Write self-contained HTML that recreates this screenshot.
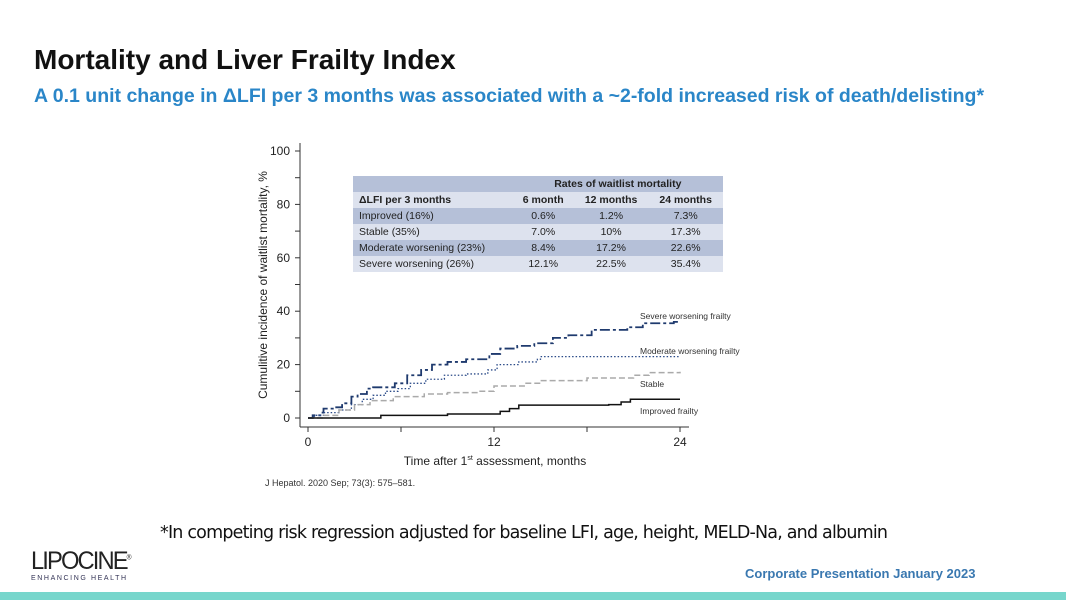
<!DOCTYPE html>
<html><head><meta charset="utf-8"><style>
body{margin:0;width:1066px;height:600px;background:#fff;position:relative;overflow:hidden;font-family:"Liberation Sans",sans-serif}
.abs{position:absolute}
table{border-collapse:collapse;font-size:10.5px;color:#222}
td{padding:0 6px;height:16px}
</style></head><body>
<div class="abs" style="left:34px;top:44px;font-size:28px;font-weight:bold;color:#111">Mortality and Liver Frailty Index</div>
<div class="abs" style="left:34px;top:85px;font-size:19.5px;font-weight:bold;color:#2a86c8;white-space:nowrap">A 0.1 unit change in ΔLFI per 3 months was associated with a ~2-fold increased risk of death/delisting*</div>
<svg class="abs" style="left:0;top:0" width="1066" height="600">
<g id="axes"></g><g id="series"></g>
</svg>
<table class="abs" style="left:353px;top:176px;width:370px">
<tr style="background:#b5c0d8"><td></td><td colspan="3" style="text-align:center;font-weight:bold">Rates of waitlist mortality</td></tr>
<tr style="background:#dde2ee;font-weight:bold"><td>ΔLFI per 3 months</td><td style="text-align:center">6 month</td><td style="text-align:center">12 months</td><td style="text-align:center">24 months</td></tr>
<tr style="background:#b5c0d8"><td>Improved (16%)</td><td align="center">0.6%</td><td align="center">1.2%</td><td align="center">7.3%</td></tr>
<tr style="background:#dde2ee"><td>Stable (35%)</td><td align="center">7.0%</td><td align="center">10%</td><td align="center">17.3%</td></tr>
<tr style="background:#b5c0d8"><td>Moderate worsening (23%)</td><td align="center">8.4%</td><td align="center">17.2%</td><td align="center">22.6%</td></tr>
<tr style="background:#dde2ee"><td>Severe worsening (26%)</td><td align="center">12.1%</td><td align="center">22.5%</td><td align="center">35.4%</td></tr>
</table>
<div class="abs" style="left:265px;top:478px;font-size:9px;color:#333">J Hepatol. 2020 Sep; 73(3): 575–581.</div>
<div class="abs" style="left:160px;top:523px;font-size:17.5px;color:#111;font-family:'DejaVu Sans',sans-serif;letter-spacing:-0.8px;white-space:nowrap">*In competing risk regression adjusted for baseline LFI, age, height, MELD-Na, and albumin</div>
<div class="abs" style="left:31px;top:547px;font-size:25px;color:#222;letter-spacing:-2px;transform:scaleX(0.95);transform-origin:left">LIPOCINE<sup style="font-size:7px">®</sup></div>
<div class="abs" style="left:31px;top:575px;font-size:7px;color:#335;letter-spacing:1.6px">ENHANCING HEALTH</div>
<div class="abs" style="left:745px;top:566px;font-size:13px;font-weight:bold;color:#3a78b0">Corporate Presentation January 2023</div>
<div class="abs" style="left:0;top:592px;width:1066px;height:8px;background:#77d6cc"></div>
<script>
const xTicks=[0,12,24];
const yTicks=[0,20,40,60,80,100];
const severeX=[0,0.3,0.8,1,1.6,2.2,2.8,3.2,3.8,4.2,5.6,6.4,7.3,8,9,10.2,11.7,12.4,13.5,14.6,15.8,16.8,18.3,20.6,21.6,23.6,24];
const severeY=[0,1,2,3.5,4,5.5,8,9,11,11.5,13,16,18,20,21,22,24,26,27,28,30,31,33,34,35.5,36,36];
const moderateX=[0,0.4,1,2,2.8,3.5,4.2,5,5.8,6.6,7.6,8.8,10.2,11.6,12.2,13.6,14.8,15,24];
const moderateY=[0,1,2,3,5,7,8.5,10,11,13,14.5,16,16.5,18,20,21,22,23,23];
const stableX=[0,1,2,3,4,5.5,7.5,9,11,12,14,15,18,21,22,24];
const stableY=[0,1,3,5,6.5,8,9,9.5,10,12,13,14,15,16,17,17.3];
const improvedX=[0,4.7,9,12.4,13,13.6,19.4,20.2,20.8,24];
const improvedY=[0,1,1.5,2.5,3.5,4.8,5,6,7,7];
const seriesNames=['Severe worsening frailty','Moderate worsening frailty','Stable','Improved frailty'];
const X=m=>308+m*(680-308)/24, Y=v=>418-v*2.67;
const NS='http://www.w3.org/2000/svg';
const ax=document.getElementById('axes'), sg=document.getElementById('series');
function mk(p,tag,a){const e=document.createElementNS(NS,tag);for(const k in a)e.setAttribute(k,a[k]);p.appendChild(e);return e;}
let l=mk(ax,'line',{x1:300,y1:143,x2:300,y2:427,stroke:'#333','stroke-width':1});

l=mk(ax,'line',{x1:300,y1:427,x2:689,y2:427,stroke:'#333','stroke-width':1});

for(let v=0;v<=100;v+=10){const t=mk(ax,'line',{x1:295,x2:300,y1:Y(v),y2:Y(v),stroke:'#333'});}
yTicks.forEach(v=>{const t=mk(ax,'text',{x:290,y:Y(v)+4,'text-anchor':'end','font-size':12,fill:'#222'});t.textContent=v;});
for(let m=0;m<=24;m+=6){const t=mk(ax,'line',{x1:X(m),x2:X(m),y1:427,y2:432,stroke:'#333'});}
xTicks.forEach(m=>{const t=mk(ax,'text',{x:X(m),y:446,'text-anchor':'middle','font-size':12,fill:'#222'});t.textContent=m;});
let t=mk(ax,'text',{x:495,y:465,'text-anchor':'middle','font-size':12,fill:'#222'});
t.innerHTML='Time after 1<tspan font-size="7" dy="-5">st</tspan><tspan dy="5"> assessment, months</tspan>';

t=mk(ax,'text',{x:0,y:0,'text-anchor':'middle','font-size':12,fill:'#222',transform:'translate(267,285) rotate(-90)'});
t.textContent='Cumulitive incidence of waitlist mortality, %';

const cfg=[[severeX,severeY,'#1f3a6e','1.8','10 3 3 3',319,'series-severe'],[moderateX,moderateY,'#2a4a88','1.3','1.5 2',354,'series-moderate'],[stableX,stableY,'#aaa','1.5','6 3',387,'series-stable'],[improvedX,improvedY,'#111','1.5','',414,'series-improved']];
cfg.forEach((c,i)=>{let d='M'+X(c[0][0])+','+Y(c[1][0]);for(let j=1;j<c[0].length;j++){d+='H'+X(c[0][j])+'V'+Y(c[1][j]);}
const p=mk(sg,'path',{d:d,fill:'none',stroke:c[2],'stroke-width':c[3],'stroke-dasharray':c[4]});

const tx=mk(sg,'text',{x:640,y:c[5],'font-size':8.5,fill:'#333'});tx.textContent=seriesNames[i];
});
</script>
</body></html>
